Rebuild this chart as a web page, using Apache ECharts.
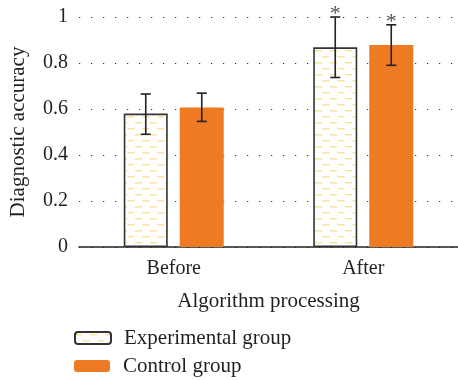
<!DOCTYPE html>
<html>
<head>
<meta charset="utf-8">
<script src="https://cdn.jsdelivr.net/npm/echarts@6/dist/echarts.min.js"></script>
<style>html,body{margin:0;padding:0;background:#fff}#c{width:458px;height:380px}</style>
</head>
<body>
<div id="c"></div>
<script>
var categories = ['Before', 'After'];
var seriesNames = ['Experimental group', 'Control group'];
var experimental = [0.58, 0.868];
var control = [0.607, 0.878];
var experimentalErr = [[0.49, 0.665], [0.737, 1.0]];
var controlErr = [[0.546, 0.669], [0.79, 0.966]];
var experimentalStar = ['', '*'];
var controlStar = ['', '*'];
var yTicks = [0, 0.2, 0.4, 0.6, 0.8, 1];

var FONT = '"Liberation Serif", "DejaVu Serif", serif';
var TXT = '#231f20';
var ORANGE = '#ee7b24';

function makePattern() {
  var cv = document.createElement('canvas');
  cv.width = 30; cv.height = 12;
  var g = cv.getContext('2d');
  g.fillStyle = '#ffffff';
  g.fillRect(0, 0, 30, 12);
  g.fillStyle = '#fce39c';
  g.fillRect(0, 2, 7, 1.5);
  g.fillRect(15, 2, 7, 1.5);
  g.fillRect(7.5, 8, 7, 1.5);
  g.fillRect(22.5, 8, 7, 1.5);
  return cv;
}
var pattern = {image: makePattern(), repeat: 'repeat'};

var BAR_W = 44, GAP = 12;
var OFF = (BAR_W + GAP) / 2;

function errSeries(name, errs, stars, offset) {
  var data = errs.map(function (e, i) { return [i, e[0], e[1], stars[i]]; });
  return {
    type: 'custom',
    name: name + ' err',
    silent: true,
    z: 10,
    renderItem: function (params, api) {
      var i = api.value(0);
      var lo = api.coord([i, api.value(1)]);
      var hi = api.coord([i, api.value(2)]);
      var x = lo[0] + offset;
      var cap = 5;
      var st = {stroke: '#222', lineWidth: 1.6};
      var children = [
        {type: 'line', shape: {x1: x, y1: lo[1], x2: x, y2: hi[1]}, style: st},
        {type: 'line', shape: {x1: x - cap, y1: lo[1], x2: x + cap, y2: lo[1]}, style: st},
        {type: 'line', shape: {x1: x - cap, y1: hi[1], x2: x + cap, y2: hi[1]}, style: st}
      ];
      var s = api.value(3);
      if (s) {
        children.push({type: 'text', style: {text: s, x: x, y: hi[1] - 3, align: 'center', verticalAlign: 'middle', fontFamily: FONT, fontSize: 22, fill: '#555'}});
      }
      return {type: 'group', children: children};
    },
    encode: {x: 0, y: [1, 2]},
    data: data
  };
}

var legendText = {fontFamily: FONT, fontSize: 21, color: TXT, lineHeight: 24, padding: [0, 0, 0, 8]};

var chart = echarts.init(document.getElementById('c'));
chart.setOption({
  animation: false,
  grid: {left: 73, right: -8, top: 17, bottom: 133},
  legend: [
    {left: 74, top: 326, padding: 0, itemWidth: 36, itemHeight: 12,
      data: [seriesNames[0]], textStyle: legendText},
    {left: 74, top: 354, padding: 0, itemWidth: 36, itemHeight: 12,
      data: [seriesNames[1]], textStyle: legendText}
  ],
  xAxis: {
    type: 'category',
    data: categories,
    name: 'Algorithm processing',
    nameLocation: 'middle',
    nameGap: 44,
    nameTextStyle: {fontFamily: FONT, fontSize: 21, color: TXT},
    axisLine: {lineStyle: {color: '#222', width: 1.5}},
    axisTick: {show: false},
    axisLabel: {fontFamily: FONT, fontSize: 20, color: TXT, margin: 12}
  },
  yAxis: {
    type: 'value',
    min: 0, max: 1, interval: 0.2,
    name: 'Diagnostic accuracy',
    nameLocation: 'middle',
    nameGap: 50,
    nameTextStyle: {fontFamily: FONT, fontSize: 21, color: TXT},
    axisLine: {show: false},
    axisTick: {show: false},
    axisLabel: {fontFamily: FONT, fontSize: 20, color: TXT, margin: 11,
      formatter: function (v) { return yTicks.indexOf(v) >= 0 ? String(v) : ''; }},
    splitLine: {show: true, lineStyle: {color: '#333', width: 1.2, type: [1.2, 10.8]}}
  },
  series: [
    {
      name: seriesNames[0], type: 'bar', data: experimental,
      barWidth: BAR_W, barGap: (GAP / BAR_W * 100) + '%',
      itemStyle: {color: pattern, borderColor: '#333', borderWidth: 1.6}
    },
    {
      name: seriesNames[1], type: 'bar', data: control,
      barWidth: BAR_W,
      itemStyle: {color: ORANGE}
    },
    errSeries(seriesNames[0], experimentalErr, experimentalStar, -OFF),
    errSeries(seriesNames[1], controlErr, controlStar, OFF)
  ]
});
</script>
</body>
</html>
